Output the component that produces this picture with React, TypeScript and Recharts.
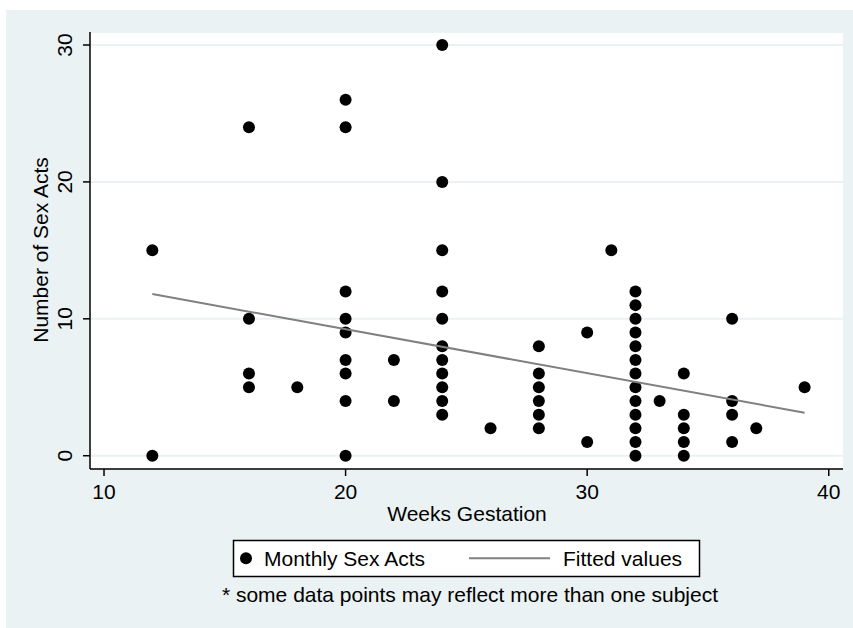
import React from "react";
import { ScatterChart, Scatter, XAxis, YAxis, CartesianGrid } from "recharts";

const weeks = [
  12, 12,
  16, 16, 16, 16,
  18,
  20, 20, 20, 20, 20, 20, 20, 20, 20,
  22, 22,
  24, 24, 24, 24, 24, 24, 24, 24, 24, 24, 24,
  26,
  28, 28, 28, 28, 28, 28,
  30, 30,
  31,
  32, 32, 32, 32, 32, 32, 32, 32, 32, 32, 32, 32, 32,
  33,
  34, 34, 34, 34, 34,
  36, 36, 36, 36,
  37,
  39,
];
const sexActs = [
  15, 0,
  24, 10, 6, 5,
  5,
  26, 24, 12, 10, 9, 7, 6, 4, 0,
  7, 4,
  30, 20, 15, 12, 10, 8, 7, 6, 5, 4, 3,
  2,
  8, 6, 5, 4, 3, 2,
  9, 1,
  15,
  12, 11, 10, 9, 8, 7, 6, 5, 4, 3, 2, 1, 0,
  4,
  6, 3, 2, 1, 0,
  10, 4, 3, 1,
  2,
  5,
];
const fittedX = [12, 39];
const fittedY = [11.81, 3.14];
const xTicks = [10, 20, 30, 40];
const yTicks = [0, 10, 20, 30];

const scatterData = weeks.map((w, i) => ({ x: w, y: sexActs[i] }));
const fittedData = fittedX.map((w, i) => ({ x: w, y: fittedY[i] }));

const FONT = "'Liberation Sans', Arial, Helvetica, sans-serif";
const BG = "#eaf2f3";
const LINE = "#808080";

const Dot = (props: any) => <circle cx={props.cx} cy={props.cy} r={6} fill="#000" />;
const NoShape = () => <g />;

const XTick = (props: any) => (
  <text x={props.x} y={498.7} textAnchor="middle" fontFamily={FONT} fontSize={21} fill="#000">
    {props.payload.value}
  </text>
);
const YTick = (props: any) => (
  <text
    x={72}
    y={props.y}
    textAnchor="middle"
    fontFamily={FONT}
    fontSize={21}
    fill="#000"
    transform={`rotate(-90 72 ${props.y})`}
  >
    {props.payload.value}
  </text>
);

export default function App() {
  return (
    <div style={{ position: "absolute", left: 0, top: 0, width: 853, height: 628, background: "#fff" }}>
      <div style={{ position: "absolute", left: 6, top: 10, width: 847, height: 618, background: BG }} />
      <div style={{ position: "absolute", left: 0, top: 0 }}>
        <ScatterChart width={853} height={628} margin={{ top: 32, right: 10, bottom: 0, left: 0 }}>
          <CartesianGrid vertical={false} stroke={BG} strokeWidth={2} fill="#fff" fillOpacity={1} />
          <XAxis
            type="number"
            dataKey="x"
            domain={[9.42, 40.59]}
            ticks={xTicks}
            allowDataOverflow
            height={159}
            tickSize={7}
            tick={<XTick />}
            axisLine={{ stroke: "#000", strokeWidth: 1.5 }}
            tickLine={{ stroke: "#000", strokeWidth: 1.5 }}
          />
          <YAxis
            type="number"
            dataKey="y"
            domain={[-0.97, 30.95]}
            ticks={yTicks}
            allowDataOverflow
            width={90}
            tickSize={7}
            tick={<YTick />}
            axisLine={{ stroke: "#000", strokeWidth: 1.5 }}
            tickLine={{ stroke: "#000", strokeWidth: 1.5 }}
          />
          <Scatter data={scatterData} shape={<Dot />} isAnimationActive={false} />
          <Scatter
            data={fittedData}
            line={{ stroke: LINE, strokeWidth: 2 }}
            shape={<NoShape />}
            isAnimationActive={false}
          />
        </ScatterChart>
      </div>
      <svg
        width={853}
        height={628}
        style={{ position: "absolute", left: 0, top: 0, pointerEvents: "none" }}
      >
        <text
          x={48}
          y={250}
          textAnchor="middle"
          fontFamily={FONT}
          fontSize={21}
          fill="#000"
          transform="rotate(-90 48 250)"
        >
          Number of Sex Acts
        </text>
        <text x={467} y={520.7} textAnchor="middle" fontFamily={FONT} fontSize={21} fill="#000">
          Weeks Gestation
        </text>
        <rect x={233.5} y={540.5} width={466} height={36} fill="#fff" stroke="#000" strokeWidth={1.5} />
        <circle cx={246} cy={558.3} r={6} fill="#000" />
        <text x={264} y={565.7} fontFamily={FONT} fontSize={21} fill="#000">
          Monthly Sex Acts
        </text>
        <line x1={469} y1={558.3} x2={550} y2={558.3} stroke={LINE} strokeWidth={2} />
        <text x={563} y={565.7} fontFamily={FONT} fontSize={21} fill="#000">
          Fitted values
        </text>
        <text x={470} y={602.3} textAnchor="middle" fontFamily={FONT} fontSize={21} fill="#000">
          * some data points may reflect more than one subject
        </text>
      </svg>
    </div>
  );
}
